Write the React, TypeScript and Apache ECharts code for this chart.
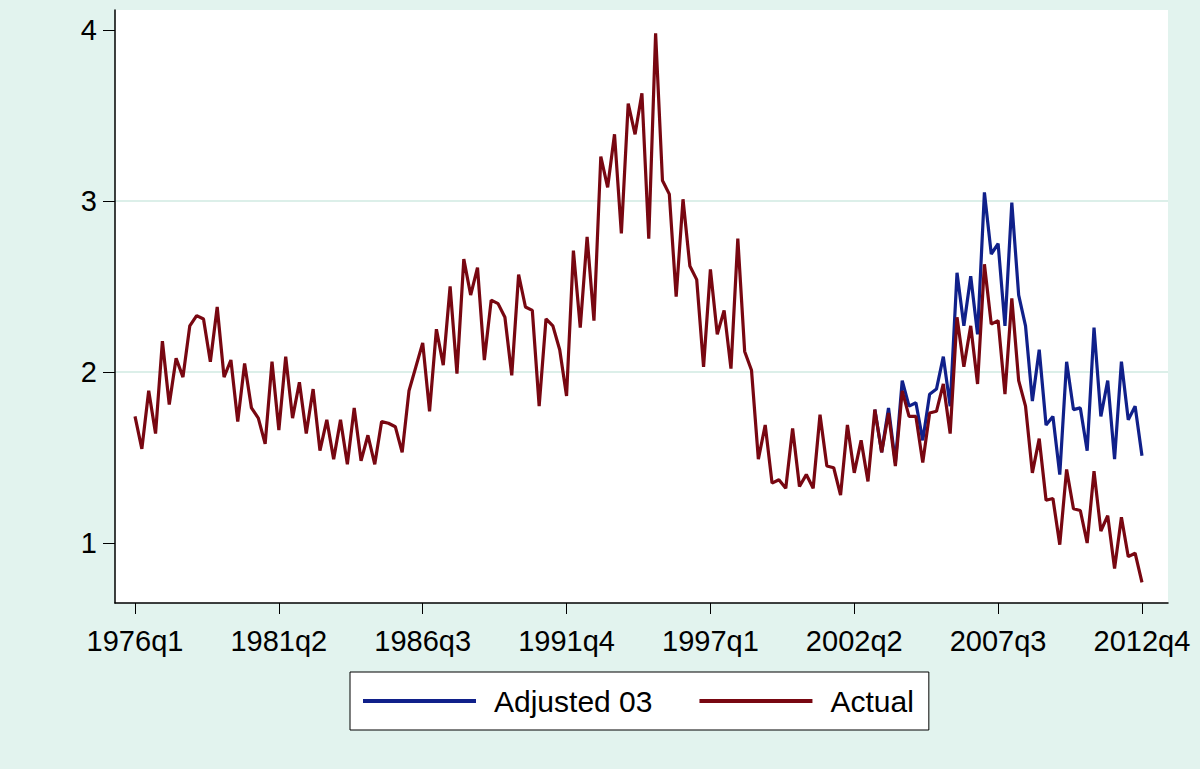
import React, { useEffect, useRef } from "react";
import * as echarts from "echarts";

// Quarterly categories 1976q1 .. 2012q4
const START_YEAR = 1976;
const N_QUARTERS = 148;
const quarters: string[] = Array.from(
  { length: N_QUARTERS },
  (_, i) => `${START_YEAR + Math.floor(i / 4)}q${(i % 4) + 1}`
);

const xTickLabels = ["1976q1", "1981q2", "1986q3", "1991q4", "1997q1", "2002q2", "2007q3", "2012q4"];
const yTickValues = [1, 2, 3, 4];

const actual: number[] = [
  1.74, 1.55, 1.89, 1.64, 2.18, 1.81, 2.08, 1.97, 2.27, 2.33,
  2.31, 2.06, 2.38, 1.97, 2.07, 1.71, 2.05, 1.79, 1.73, 1.58,
  2.06, 1.66, 2.09, 1.73, 1.94, 1.64, 1.9, 1.54, 1.72, 1.49,
  1.72, 1.46, 1.79, 1.48, 1.63, 1.46, 1.71, 1.7, 1.68, 1.53,
  1.89, 2.03, 2.17, 1.77, 2.25, 2.04, 2.5, 1.99, 2.66, 2.45,
  2.61, 2.07, 2.42, 2.4, 2.32, 1.98, 2.57, 2.38, 2.36, 1.8,
  2.31, 2.27, 2.13, 1.86, 2.71, 2.26, 2.79, 2.3, 3.26, 3.08,
  3.39, 2.81, 3.57, 3.39, 3.63, 2.78, 3.98, 3.12, 3.04, 2.44,
  3.01, 2.62, 2.54, 2.03, 2.6, 2.22, 2.36, 2.02, 2.78, 2.12,
  2.01, 1.49, 1.69, 1.35, 1.37, 1.32, 1.67, 1.33, 1.4, 1.32,
  1.75, 1.45, 1.44, 1.28, 1.69, 1.41, 1.6, 1.36, 1.78, 1.53,
  1.76, 1.45, 1.89, 1.74, 1.74, 1.47, 1.76, 1.77, 1.93, 1.64,
  2.32, 2.03, 2.27, 1.93, 2.63, 2.28, 2.3, 1.87, 2.43, 1.95,
  1.8, 1.41, 1.61, 1.25, 1.26, 0.99, 1.43, 1.2, 1.19, 1.0,
  1.42, 1.07, 1.16, 0.85, 1.15, 0.92, 0.94, 0.77,
];

// Adjusted 03 series only differs from 2003 onward (index 108 = 2003q1)
const ADJ_START = 108;
const adjusted03Tail: number[] = [
  1.78, 1.53, 1.79, 1.47, 1.95, 1.8, 1.82, 1.6, 1.87, 1.9,
  2.09, 1.8, 2.58, 2.27, 2.56, 2.22, 3.05, 2.69, 2.75, 2.27,
  2.99, 2.45, 2.27, 1.83, 2.13, 1.69, 1.74, 1.4, 2.06, 1.78,
  1.79, 1.54, 2.26, 1.74, 1.95, 1.49, 2.06, 1.72, 1.8, 1.51,
];

const BG = "#E2F3EE";
const GRID = "#DCEFE9";
const BLUE = "#10208A";
const RED = "#780711";
const FONT = "'Liberation Sans', Arial, Helvetica, sans-serif";

export default function App() {
  const ref = useRef<HTMLDivElement>(null);

  useEffect(() => {
    if (!ref.current) return;
    const chart = echarts.init(ref.current, undefined, { renderer: "svg" });

    const xTickIdx = xTickLabels.map((l) => quarters.indexOf(l));
    const actualData = actual.map((v, i) => [i, v]);
    const adjData = adjusted03Tail.map((v, k) => [ADJ_START + k, v]);

    chart.setOption({
      animation: false,
      backgroundColor: BG,
      textStyle: { fontFamily: FONT },
      grid: {
        show: true,
        left: 115,
        right: 32,
        top: 10,
        bottom: 166,
        backgroundColor: "#ffffff",
        borderWidth: 0,
      },
      legend: {
        left: 350,
        top: 672,
        orient: "horizontal",
        padding: [14, 15, 14, 13],
        backgroundColor: "#ffffff",
        borderColor: "#000000",
        borderWidth: 1,
        itemWidth: 113,
        itemHeight: 4,
        itemGap: 47,
        icon: "rect",
        textStyle: {
          fontSize: 30,
          color: "#000",
          fontFamily: FONT,
          padding: [0, 0, 0, 13],
        },
        data: ["Adjusted 03", "Actual"],
      },
      xAxis: {
        type: "value",
        min: -2.92,
        max: 150.8,
        axisLine: { show: true, onZero: false, lineStyle: { color: "#000", width: 1.5 } },
        axisTick: {
          show: true,
          length: 11,
          customValues: xTickIdx,
          lineStyle: { color: "#000", width: 1 },
        },
        axisLabel: {
          customValues: xTickIdx,
          fontSize: 29,
          color: "#000",
          margin: 23,
          fontFamily: FONT,
          formatter: (v: number) => quarters[Math.round(v)] ?? "",
        },
        splitLine: { show: false },
      },
      yAxis: {
        type: "value",
        min: 0.649,
        max: 4.117,
        splitNumber: 3,
        axisLine: { show: true, onZero: false, lineStyle: { color: "#000", width: 1.5 } },
        axisTick: {
          show: true,
          length: 12,
          customValues: yTickValues,
          lineStyle: { color: "#000", width: 1 },
        },
        axisLabel: {
          customValues: yTickValues,
          fontSize: 29,
          color: "#000",
          margin: 18,
          fontFamily: FONT,
          formatter: (v: number) => String(v),
        },
        splitLine: {
          show: true,
          showMinLine: false,
          showMaxLine: false,
          lineStyle: { color: GRID, width: 2 },
        },
      },
      series: [
        {
          name: "Adjusted 03",
          type: "line",
          data: adjData,
          showSymbol: false,
          symbol: "none",
          lineStyle: { color: BLUE, width: 3.2 },
          itemStyle: { color: BLUE },
          z: 2,
        },
        {
          name: "Actual",
          type: "line",
          data: actualData,
          showSymbol: false,
          symbol: "none",
          lineStyle: { color: RED, width: 3.2 },
          itemStyle: { color: RED },
          z: 3,
        },
      ],
    });

    return () => chart.dispose();
  }, []);

  return (
    <div
      ref={ref}
      style={{ position: "absolute", left: 0, top: 0, width: 1200, height: 769 }}
    />
  );
}
